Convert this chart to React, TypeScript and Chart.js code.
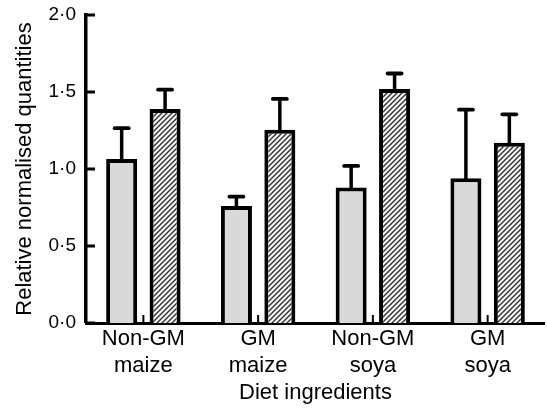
import React, { useEffect, useRef } from "react";
import { Chart, registerables } from "chart.js";

Chart.register(...registerables);

const categories = [
  ["Non-GM", "maize"],
  ["GM", "maize"],
  ["Non-GM", "soya"],
  ["GM", "soya"],
];
const plainMeans = [1.065, 0.76, 0.88, 0.94];
const plainErrors = [0.2, 0.06, 0.14, 0.445];
const hatchedMeans = [1.39, 1.255, 1.52, 1.17];
const hatchedErrors = [0.125, 0.2, 0.1, 0.185];
const yMin = 0;
const yMax = 2;
const yStep = 0.5;
const yTitle = "Relative normalised quantities";
const xTitle = "Diet ingredients";

const FONT = "'Liberation Sans', Arial, Helvetica, sans-serif";

function makeHatch(): CanvasPattern | string {
  const s = 5;
  const c = document.createElement("canvas");
  c.width = s;
  c.height = s;
  const g = c.getContext("2d");
  if (!g) return "#999";
  g.fillStyle = "#f4f4f4";
  g.fillRect(0, 0, s, s);
  g.strokeStyle = "#333";
  g.lineWidth = 1.4;
  g.beginPath();
  g.moveTo(0, s);
  g.lineTo(s, 0);
  g.moveTo(-1, 1);
  g.lineTo(1, -1);
  g.moveTo(s - 1, s + 1);
  g.lineTo(s + 1, s - 1);
  g.stroke();
  return g.createPattern(c, "repeat") || "#999";
}

const errorBarPlugin = {
  id: "errorBars",
  afterDatasetsDraw(chart: any) {
    const ctx = chart.ctx;
    const y = chart.scales.y;
    chart.data.datasets.forEach((ds: any, di: number) => {
      const meta = chart.getDatasetMeta(di);
      meta.data.forEach((bar: any, i: number) => {
        const v = ds.data[i];
        const e = ds.errors[i];
        const base = y.getPixelForValue(v);
        const top = y.getPixelForValue(v + e);
        ctx.save();
        ctx.strokeStyle = "#000";
        ctx.lineWidth = 3.5;
        ctx.beginPath();
        ctx.moveTo(bar.x, base + 1);
        ctx.lineTo(bar.x, top);
        ctx.stroke();
        ctx.lineCap = "round";
        ctx.lineWidth = 3.8;
        ctx.beginPath();
        ctx.moveTo(bar.x - 7, top);
        ctx.lineTo(bar.x + 7, top);
        ctx.stroke();
        ctx.restore();
      });
    });
  },
};

const innerTicksPlugin = {
  id: "innerTicks",
  afterDraw(chart: any) {
    const ctx = chart.ctx;
    const { left, bottom } = chart.chartArea;
    const y = chart.scales.y;
    const x = chart.scales.x;
    ctx.save();
    ctx.strokeStyle = "#000";
    ctx.lineWidth = 3;
    y.ticks.forEach((t: any) => {
      const py = y.getPixelForValue(t.value);
      ctx.beginPath();
      ctx.moveTo(left, py);
      ctx.lineTo(left + 9, py);
      ctx.stroke();
    });
    ctx.lineWidth = 2;
    x.ticks.forEach((_t: any, i: number) => {
      const px = x.getPixelForTick(i);
      ctx.beginPath();
      ctx.moveTo(px, bottom);
      ctx.lineTo(px, bottom - 8);
      ctx.stroke();
    });
    ctx.restore();
  },
};

export default function App() {
  const ref = useRef<HTMLCanvasElement | null>(null);

  useEffect(() => {
    if (!ref.current) return;
    const hatch = makeHatch();
    const chart = new Chart(ref.current, {
      type: "bar",
      data: {
        labels: categories,
        datasets: [
          {
            label: "plain",
            data: plainMeans,
            errors: plainErrors,
            backgroundColor: "#d9d9d9",
            borderColor: "#000",
            borderWidth: 4,
            borderSkipped: "start",
            categoryPercentage: 0.757,
            barPercentage: 0.714,
          } as any,
          {
            label: "hatched",
            data: hatchedMeans,
            errors: hatchedErrors,
            backgroundColor: hatch,
            borderColor: "#000",
            borderWidth: 4,
            borderSkipped: "start",
            categoryPercentage: 0.757,
            barPercentage: 0.714,
          } as any,
        ],
      },
      options: {
        animation: false,
        responsive: false,
        maintainAspectRatio: false,
        layout: { padding: { top: 15, right: 2, left: 0, bottom: 0 } },
        plugins: {
          legend: { display: false },
          tooltip: { enabled: false },
          title: { display: false },
        },
        scales: {
          x: {
            grid: { display: false, drawTicks: false, lineWidth: 0 },
            border: { display: true, color: "#000", width: 3 },
            ticks: {
              color: "#000",
              font: { family: FONT, size: 22, lineHeight: 1.2 },
              padding: 3,
              maxRotation: 0,
              autoSkip: false,
            },
            title: {
              display: true,
              text: xTitle,
              color: "#000",
              font: { family: FONT, size: 22, lineHeight: 1.2 },
              padding: { top: 0, bottom: 3 },
            },
            afterFit(scale: any) {
              scale.height = 86;
              scale.paddingLeft = 0;
              scale.paddingRight = 0;
            },
          },
          y: {
            min: yMin,
            max: yMax,
            grid: { display: false, drawTicks: false, lineWidth: 0 },
            border: { display: true, color: "#000", width: 3.5 },
            ticks: {
              stepSize: yStep,
              color: "#000",
              font: { family: FONT, size: 19 },
              padding: 10,
              callback: (v: any) => Number(v).toFixed(1).replace(".", "\u00B7"),
            },
            title: {
              display: true,
              text: yTitle,
              color: "#000",
              font: { family: FONT, size: 22, lineHeight: 1.2 },
              padding: { top: 12, bottom: 0 },
            },
            afterFit(scale: any) {
              scale.width = 86;
              scale.paddingTop = 0;
              scale.paddingBottom = 0;
            },
          },
        },
      },
      plugins: [errorBarPlugin, innerTicksPlugin],
    } as any);
    return () => chart.destroy();
  }, []);

  return (
    <div style={{ position: "absolute", left: 0, top: 0, width: 547, height: 409, background: "#fff" }}>
      <canvas ref={ref} width={547} height={409} style={{ display: "block" }} />
    </div>
  );
}
